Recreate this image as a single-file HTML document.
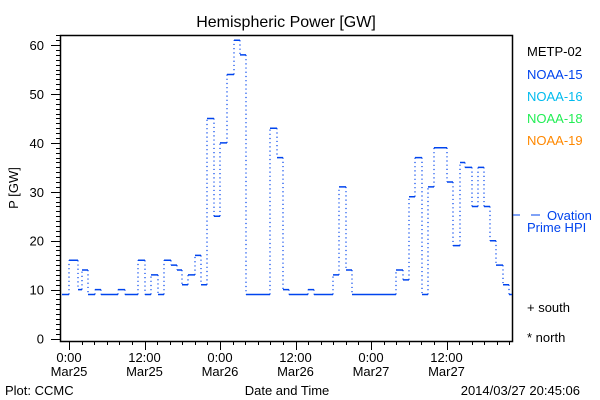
<!DOCTYPE html>
<html><head><meta charset="utf-8"><style>
body{margin:0;background:#fff;width:600px;height:400px;overflow:hidden}
svg{display:block}
text{font-family:"Liberation Sans","DejaVu Sans",sans-serif;font-size:13px}
</style></head><body>
<svg id="s" width="600" height="400" xmlns="http://www.w3.org/2000/svg">
<rect x="60.5" y="35.5" width="452" height="306" fill="none" stroke="#000" stroke-width="1.5"/>
<text x="286" y="27" text-anchor="middle" style="font-size:16px">Hemispheric Power [GW]</text>
<text transform="translate(18,188) rotate(-90)" text-anchor="middle">P [GW]</text>
<g id="yt" stroke="#000"></g>
<g id="xt" stroke="#000"></g>
<g id="lab"></g>
<path id="h" fill="none" stroke="#0044ee" stroke-width="1.5"/>
<path id="v" fill="none" stroke="#0044ee" stroke-width="1.2" stroke-dasharray="1.2,3"/>
<text x="527" y="56">METP-02</text>
<text x="527" y="79" fill="#0044ee">NOAA-15</text>
<text x="527" y="101" fill="#00bbee">NOAA-16</text>
<text x="527" y="123" fill="#22ee55">NOAA-18</text>
<text x="527" y="145" fill="#ff8800">NOAA-19</text>
<line x1="513" y1="215" x2="520" y2="215" stroke="#0044ee"/>
<line x1="531" y1="215" x2="540" y2="215" stroke="#0044ee"/>
<text x="547" y="220" fill="#0044ee">Ovation</text>
<text x="527" y="232" fill="#0044ee">Prime HPI</text>
<text x="527" y="312">+ south</text>
<text x="527" y="342">* north</text>
<text x="5" y="395">Plot: CCMC</text>
<text x="287" y="395" text-anchor="middle">Date and Time</text>
<text x="580" y="395" text-anchor="end">2014/03/27 20:45:06</text>
</svg>
<script>
var ns="http://www.w3.org/2000/svg";
function Y(v){return 338.5-4.89*v;}
var yt=document.getElementById('yt'),xt=document.getElementById('xt'),lab=document.getElementById('lab');
function ln(g,x1,y1,x2,y2){var l=document.createElementNS(ns,'line');l.setAttribute('x1',x1);l.setAttribute('y1',y1);l.setAttribute('x2',x2);l.setAttribute('y2',y2);g.appendChild(l);}
function tx(x,y,s,a){var t=document.createElementNS(ns,'text');t.setAttribute('x',x);t.setAttribute('y',y);if(a)t.setAttribute('text-anchor',a);t.textContent=s;lab.appendChild(t);}
for(var v=0;v<=62;v++){var y=Math.round(Y(v))+0.5;var L=v%10==0?9:4;ln(yt,60-L,y,60,y);}
for(var v=0;v<=60;v+=10)tx(44,Y(v)+5,String(v),'end');
var x0=69,ph=75.5/12;
for(var h=-2;h<=70;h+=2){var x=Math.round(x0+h*ph)+0.5;if(x<60||x>512)continue;var L=h%12==0?9:4;ln(xt,x,341,x,341+L);}
var labs=[["0:00","Mar25"],["12:00","Mar25"],["0:00","Mar26"],["12:00","Mar26"],["0:00","Mar27"],["12:00","Mar27"]];
for(var i=0;i<6;i++){var x=x0+i*75.5;tx(x,362,labs[i][0],'middle');tx(x,376,labs[i][1],'middle');}
var d=[[62,9],[69,16],[78,10],[82,14],[88,9],[95,10],[101,9],[118,10],[125,9],[138,16],[145,9],[151,13],[158,9],[164,16],[171,15],[177,14],[182,11],[188,13],[195,17],[201,11],[207,45],[214,25],[220,40],[227,54],[234,61],[240,58],[246,9],[270,43],[277,37],[283,10],[289,9],[308,10],[314,9],[333,13],[339,31],[346,14],[352,9],[396,14],[403,12],[409,29],[415,37],[422,9],[428,31],[434,39],[447,32],[453,19],[460,36],[465,35],[472,27],[478,35],[484,27],[490,20],[496,15],[503,11],[509,9],[512,9]];
var h="",vv="";
for(var i=0;i<d.length-1;i++){var y=Y(d[i][1]);h+="M"+d[i][0]+" "+y+"H"+d[i+1][0];vv+="M"+d[i+1][0]+" "+y+"V"+Y(d[i+1][1]);}
document.getElementById('h').setAttribute('d',h);document.getElementById('v').setAttribute('d',vv);
</script>
</body></html>
